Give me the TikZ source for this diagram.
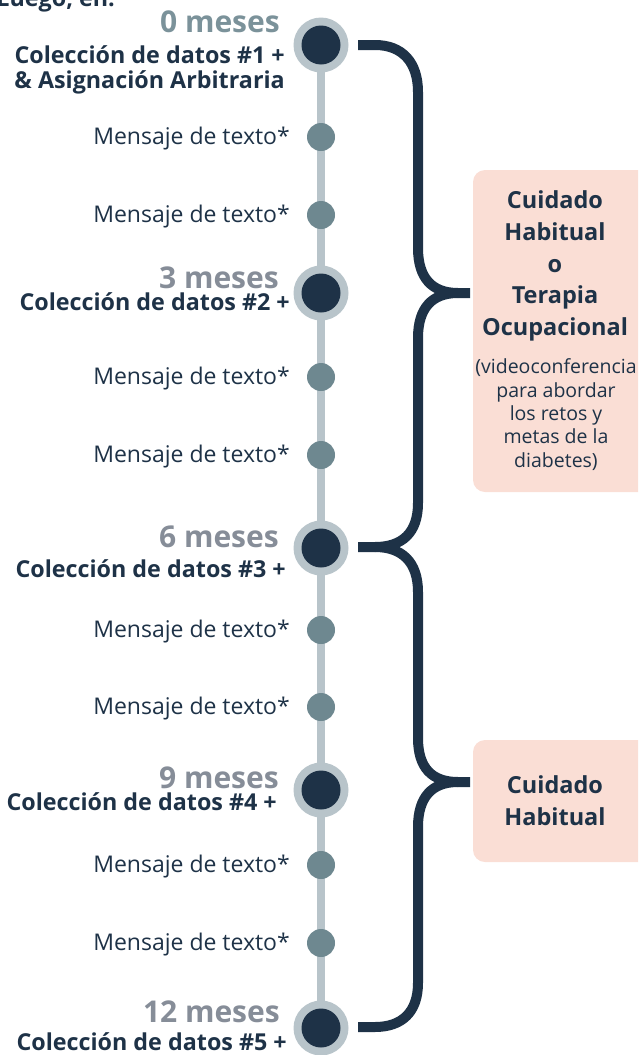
\documentclass[tikz,border=0pt]{standalone}
\usepackage{fontspec}
\setmainfont{Open Sans}
\definecolor{dark}{HTML}{1E3247}
\definecolor{ring}{HTML}{B8C4CA}
\definecolor{dotc}{HTML}{6E8890}
\definecolor{teal}{HTML}{7B929A}
\definecolor{grayt}{HTML}{868D98}
\definecolor{peach}{HTML}{FADED5}
\begin{document}
\begin{tikzpicture}[x=1pt,y=-1pt,
  bigring/.style={circle,fill=ring,minimum size=55pt,inner sep=0pt},
  bigdot/.style={circle,fill=dark,minimum size=39pt,inner sep=0pt},
  smalldot/.style={circle,fill=dotc,minimum size=28pt,inner sep=0pt},
  month/.style={anchor=base east,inner sep=0pt,font=\fontsize{30}{32}\selectfont\bfseries},
  coll/.style={anchor=base east,inner sep=0pt,text=dark,font=\fontsize{23.3}{25}\selectfont\bfseries},
  msg/.style={anchor=base east,inner sep=0pt,text=dark,font=\fontsize{23}{25}\selectfont},
  brace/.style={draw=dark,line width=10pt,line cap=butt},
  box/.style={fill=peach,rounded corners=12pt},
  boxtitle/.style={anchor=base,inner sep=0pt,text=dark,font=\fontsize{23.5}{25}\selectfont\bfseries},
  boxsub/.style={anchor=base,inner sep=0pt,text=dark,font=\fontsize{19.5}{21}\selectfont}]
\useasboundingbox (0,0) rectangle (638,1055);
\begin{scope}
\clip (0,0) rectangle (638,1055);
% timeline
\coordinate (top) at (321,45);
\coordinate (bot) at (321,1028);
\draw[ring,line width=8pt] (top) -- (bot);
% big markers
\foreach \n/\y in {m0/45,m3/293,m6/548,m9/790,m12/1028}{
  \node[bigring] (\n r) at (321,\y) {};
  \node[bigdot] (\n) at (321,\y) {};
}
% small dots
\foreach \n/\y in {s1/137,s2/215,s3/377,s4/455,s5/630,s6/707,s7/865,s8/943}{
  \node[smalldot] (\n) at (321,\y) {};
}
% braces
\draw[brace] (358,45) -- (375,45) .. controls (402,45) and (418,62) .. (418,92) -- (418,248)
  .. controls (418,278) and (432,293) .. (458,293) -- (470,293);
\draw[brace] (458,293) .. controls (432,293) and (418,308) .. (418,338) -- (418,503)
  .. controls (418,533) and (402,547) .. (375,547) -- (358,547);
\draw[brace] (375,547) .. controls (402,547) and (418,562) .. (418,592) -- (418,738)
  .. controls (418,768) and (432,782) .. (458,782) -- (470,782);
\draw[brace] (458,782) .. controls (432,782) and (418,797) .. (418,827) -- (418,983)
  .. controls (418,1012) and (402,1027) .. (375,1027) -- (358,1027);
% boxes
\fill[box] (473,170) rectangle (650,492);
\fill[box] (473,740) rectangle (650,862);
% box texts
\node[boxtitle] (b1a) at (555,208) {Cuidado};
\node[boxtitle] (b1b) at (555,240) {Habitual};
\node[boxtitle] (b1c) at (555,272) {o};
\node[boxtitle] (b1d) at (555,303) {Terapia};
\node[boxtitle] (b1e) at (555,335) {Ocupacional};
\node[boxsub] (b1f) at (556,373) {(videoconferencia};
\node[boxsub] (b1g) at (556,397) {para abordar};
\node[boxsub] (b1h) at (556,420) {los retos y};
\node[boxsub] (b1i) at (556,443) {metas de la};
\node[boxsub] (b1j) at (556,467) {diabetes)};
\node[boxtitle] (b2a) at (555,793) {Cuidado};
\node[boxtitle] (b2b) at (555,825) {Habitual};
% left labels
\node[coll] (luego) at (115,6) {Luego, en:};
\node[month,text=teal] (t0) at (280,32) {0 meses};
\node[coll] (c1) at (285,63) {Colección de datos \#1 +};
\node[coll] (c1b) at (285,88) {\& Asignación Arbitraria};
\node[month,text=grayt] (t3) at (279,288) {3 meses};
\node[coll] (c2) at (290,310) {Colección de datos \#2 +};
\node[month,text=grayt] (t6) at (279,547) {6 meses};
\node[coll] (c3) at (286,577) {Colección de datos \#3 +};
\node[month,text=grayt] (t9) at (279,788) {9 meses};
\node[coll] (c4) at (277,810) {Colección de datos \#4 +};
\node[month,text=grayt] (t12) at (280,1022) {12 meses};
\node[coll] (c5) at (287,1050) {Colección de datos \#5 +};
\foreach \n/\y in {s1/144,s2/222,s3/384,s4/462,s5/637,s6/714,s7/872,s8/950}{
  \node[msg] (l\n) at (290,\y) {Mensaje de texto*};
}
\end{scope}
\end{tikzpicture}
\end{document}
